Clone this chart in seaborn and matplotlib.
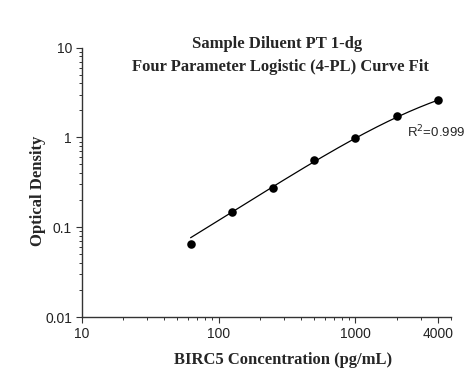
import numpy as np
import pandas as pd
import matplotlib
matplotlib.use("Agg")
import matplotlib.pyplot as plt
import matplotlib.ticker as mticker
import seaborn as sns

# standard concentrations and measured OD
conc = [62.5, 125, 250, 500, 1000, 2000, 4000]
od = [0.065, 0.147, 0.276, 0.557, 0.98, 1.73, 2.6]

# 4-PL fit parameters (bottom, slope, EC50, top)
fit_a = 0.004
fit_b = 1.0
fit_c = 4950.0
fit_d = 5.81

x_ticks = [10, 100, 1000, 4000]
y_ticks = [0.01, 0.1, 1, 10]

df = pd.DataFrame({"conc": conc, "od": od})
xs = np.geomspace(conc[0], conc[-1], 200)
curve = pd.DataFrame({"conc": xs,
                      "od": fit_d + (fit_a - fit_d) / (1 + (xs / fit_c) ** fit_b)})

sns.set_style("ticks")
fig = plt.figure(figsize=(4.68, 3.83), dpi=100)
ax = fig.add_axes([0.1746, 0.1723, 0.789, 0.7032])

sns.lineplot(data=curve, x="conc", y="od", color="black", linewidth=0.9, ax=ax)
sns.scatterplot(data=df, x="conc", y="od", color="black", s=38, edgecolor="black",
                linewidth=0, zorder=3, ax=ax)

ax.set_xscale("log")
ax.set_yscale("log")
ax.set_xlim(10, 5000)
ax.set_ylim(0.01, 10)
ax.xaxis.set_major_locator(mticker.FixedLocator(x_ticks))
ax.xaxis.set_major_formatter(mticker.FixedFormatter([str(t) for t in x_ticks]))
ax.xaxis.set_minor_locator(mticker.LogLocator(base=10, subs=np.arange(2, 10)))
ax.xaxis.set_minor_formatter(mticker.NullFormatter())
ax.yaxis.set_major_locator(mticker.FixedLocator(y_ticks))
ax.yaxis.set_major_formatter(mticker.FixedFormatter(["0.01", "0.1", "1", "10"]))
ax.yaxis.set_minor_locator(mticker.LogLocator(base=10, subs=np.arange(2, 10)))
ax.yaxis.set_minor_formatter(mticker.NullFormatter())

for lab in ax.get_xticklabels() + ax.get_yticklabels():
    lab.set_fontfamily("Liberation Sans")
    lab.set_fontsize(10)
    lab.set_color("#222222")
ax.tick_params(which="major", length=4, width=0.8, color="#333333", pad=3)
ax.tick_params(which="minor", length=2.2, width=0.7, color="#333333")
for s in ["left", "bottom"]:
    ax.spines[s].set_linewidth(1.0)
    ax.spines[s].set_color("#333333")
sns.despine(ax=ax)

ax.set_xlabel("BIRC5 Concentration (pg/mL)", fontfamily="Liberation Serif",
              fontweight="bold", fontsize=12)
ax.set_ylabel("Optical Density", fontfamily="Liberation Serif",
              fontweight="bold", fontsize=12)
ax.xaxis.set_label_coords(0.5465, -0.13)
ax.yaxis.set_label_coords(-0.098, 0.469)

fig.text(0.592, 0.885, "Sample Diluent PT 1-dg", ha="center", va="center",
         fontfamily="Liberation Serif", fontweight="bold", fontsize=12)
fig.text(0.599, 0.824, "Four Parameter Logistic (4-PL) Curve Fit", ha="center",
         va="center", fontfamily="Liberation Serif", fontweight="bold", fontsize=12)

ax.text(0.881, 0.686, "R$^2$=0.999", transform=ax.transAxes, ha="left", va="center",
        fontfamily="Liberation Sans", fontsize=9.5)

fig.savefig("out.png", dpi=100)
